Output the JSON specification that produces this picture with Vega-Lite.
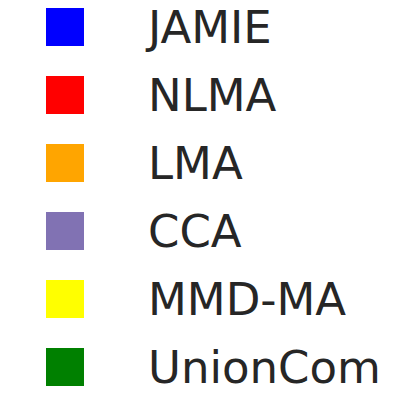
{
  "$schema": "https://vega.github.io/schema/vega-lite/v6.json",
  "width": 403,
  "height": 401,
  "padding": 0,
  "autosize": {"type": "none"},
  "background": "white",
  "config": {"view": {"stroke": null}},
  "data": {"values": [
    {"method": "JAMIE", "order": 0},
    {"method": "NLMA", "order": 1},
    {"method": "LMA", "order": 2},
    {"method": "CCA", "order": 3},
    {"method": "MMD-MA", "order": 4},
    {"method": "UnionCom", "order": 5}
  ]},
  "encoding": {
    "y": {"field": "order", "type": "quantitative", "scale": {"domain": [-0.397, 5.5], "reverse": true, "nice": false, "zero": false}, "axis": null}
  },
  "layer": [
    {
      "mark": {"type": "point", "shape": "square", "filled": true, "size": 1444, "opacity": 1, "strokeWidth": 0},
      "encoding": {
        "x": {"datum": 0, "type": "quantitative", "scale": {"domain": [-0.7738, 4.0238], "nice": false, "zero": false}, "axis": null},
        "color": {"field": "method", "type": "nominal", "legend": null,
          "scale": {"domain": ["JAMIE", "NLMA", "LMA", "CCA", "MMD-MA", "UnionCom"],
                    "range": ["#0000ff", "#ff0000", "#ffa500", "#8172b3", "#ffff00", "#008000"]}}
      }
    },
    {
      "mark": {"type": "text", "align": "left", "baseline": "alphabetic", "dy": 16, "dx": -1, "font": "DejaVu Sans", "fontSize": 45, "color": "#262626"},
      "encoding": {
        "x": {"datum": 1, "type": "quantitative"},
        "text": {"field": "method", "type": "nominal"}
      }
    }
  ]
}
